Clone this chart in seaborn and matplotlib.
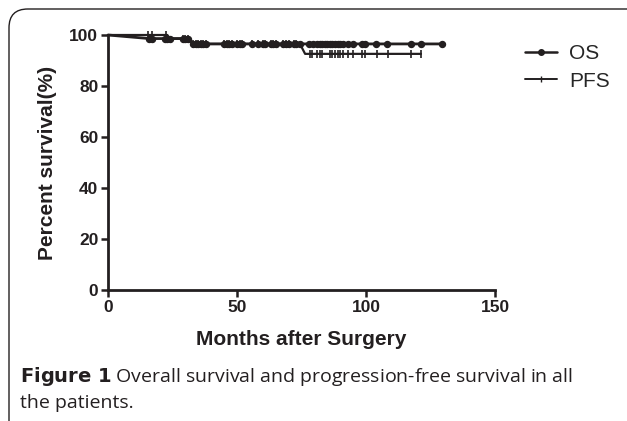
import numpy as np
import pandas as pd
import matplotlib
matplotlib.use("Agg")
import matplotlib.pyplot as plt
from matplotlib.lines import Line2D
from matplotlib.patches import FancyBboxPatch
import seaborn as sns

# ---- data ----
os_time = [0, 16, 31, 33, 129.5]
os_surv = [100, 98.6, 98.6, 96.5, 96.5]
pfs_time = [0, 23, 24, 31, 33, 74.4, 76.4, 121.3]
pfs_surv = [100, 100, 98.6, 98.6, 96.5, 96.5, 92.6, 92.6]

os_censor = [16, 17, 22, 23, 24, 29, 30, 31, 33, 34, 35, 36, 37, 38, 45, 46, 47,
             48, 50, 51, 52, 56, 58, 60, 61, 63, 64, 65, 68, 69, 70, 72, 73, 74.4,
             78, 79.5, 81, 82, 83, 84, 85, 86, 87, 88, 89, 90, 91, 93, 95, 98.5,
             99.6, 104, 108, 117.4, 121.3, 129.5]
pfs_censor = [15.5, 17, 22.5, 29, 30, 31, 33, 34, 35, 36, 37, 38, 45, 46, 47, 48,
              50, 51, 52, 56, 58, 60, 61, 63, 64, 65, 68, 69, 70, 72, 73,
              78.3, 79, 81, 82, 83, 86, 87, 88, 89, 90, 91, 93, 95, 98.5, 99.6,
              104.3, 108.5, 117.4, 121.3]

x_ticks = [0, 50, 100, 150]
y_ticks = [0, 20, 40, 60, 80, 100]
series_names = ["OS", "PFS"]

sns.set_theme(style="ticks")
plt.rcParams['font.family'] = ['Liberation Sans', 'DejaVu Sans']

INK = "#231f20"
W, H = 627, 421
fig = plt.figure(figsize=(W / 100, H / 100), dpi=100)

# frame
box = FancyBboxPatch((9 / W, -30 / H), (W + 20 - 9) / W, (H + 30 - 9) / H,
                     boxstyle="round,pad=0,rounding_size=0.03",
                     transform=fig.transFigure, fill=False,
                     edgecolor=INK, linewidth=1.0, mutation_aspect=W / H)
fig.add_artist(box)

ax = fig.add_axes([108 / W, 1 - 290 / H, (495 - 108) / W, (290 - 35) / H])

df_os = pd.DataFrame({"t": os_time, "s": os_surv})
df_pfs = pd.DataFrame({"t": pfs_time, "s": pfs_surv})
sns.lineplot(data=df_os, x="t", y="s", sort=False, ax=ax, color=INK,
             linewidth=2.0, clip_on=False)
sns.lineplot(data=df_pfs, x="t", y="s", sort=False, ax=ax, color=INK,
             linewidth=1.6, clip_on=False)

os_cy = np.interp(os_censor, os_time, os_surv)
pfs_cy = np.interp(pfs_censor, pfs_time, pfs_surv)
ax.plot(os_censor, os_cy, linestyle="none", marker="o", markersize=4.3,
        color=INK, clip_on=False)
ax.plot(pfs_censor, pfs_cy, linestyle="none", marker="|", markersize=6,
        markeredgewidth=1.2, color=INK, clip_on=False)

ax.set_xlim(0, 150)
ax.set_ylim(0, 100)
ax.set_xticks(x_ticks)
ax.set_yticks(y_ticks)
ax.set_xticklabels([str(v) for v in x_ticks], fontsize=12.5, fontweight="bold", color=INK)
ax.set_yticklabels([str(v) for v in y_ticks], fontsize=12.5, fontweight="bold", color=INK)
ax.tick_params(direction="out", length=5, width=1.8, color=INK, pad=2)
for side in ["left", "bottom"]:
    ax.spines[side].set_linewidth(2.0)
    ax.spines[side].set_color(INK)
for side in ["top", "right"]:
    ax.spines[side].set_visible(False)

ax.set_xlabel("Months after Surgery", fontsize=15, fontweight="bold", color=INK, labelpad=11)
ax.set_ylabel("Percent survival(%)", fontsize=15, fontweight="bold", color=INK, labelpad=9)

handles = [Line2D([], [], color=INK, linewidth=1.8, marker="o", markersize=4),
           Line2D([], [], color=INK, linewidth=1.4, marker="|", markersize=5,
                  markeredgewidth=1.0)]
fig.legend(handles, series_names, loc="upper left", bbox_to_anchor=(517 / W, 1 - 36 / H),
           frameon=False, fontsize=15, handlelength=1.5, labelspacing=0.4,
           handletextpad=0.6, borderaxespad=0)

fig.text(20 / W, 1 - 376 / H, r"$\bf{Figure\ 1}$ Overall survival and progression-free survival in all",
         fontsize=14, va="center", ha="left", color=INK, family=["Open Sans", "DejaVu Sans"])
fig.text(20 / W, 1 - 403 / H, "the patients.", fontsize=14, va="center", ha="left",
         color=INK, family=["Open Sans", "DejaVu Sans"])

fig.savefig("out.png", dpi=100, facecolor="white")
